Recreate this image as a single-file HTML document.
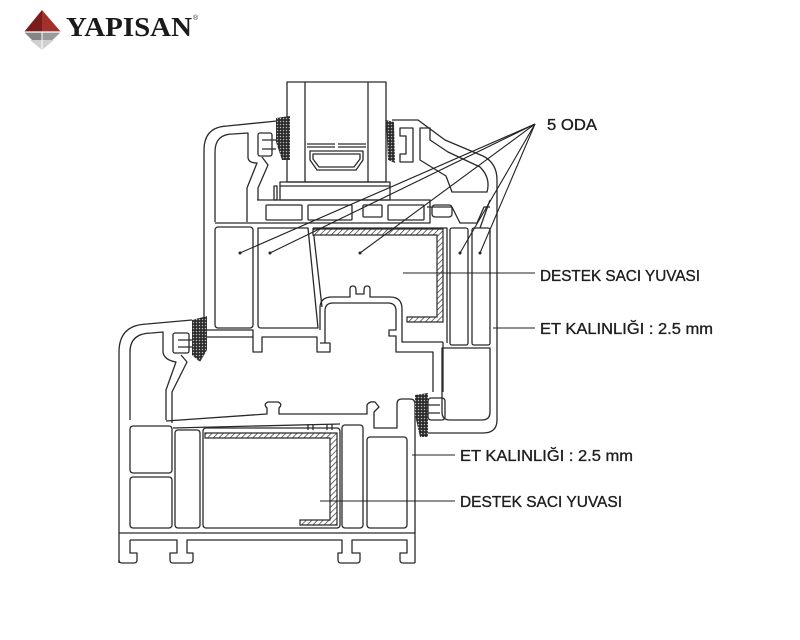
<!DOCTYPE html>
<html><head><meta charset="utf-8"><style>
html,body{margin:0;padding:0;background:#fff;}
svg{display:block;}
</style></head><body>
<svg width="800" height="640" viewBox="0 0 800 640" xmlns="http://www.w3.org/2000/svg">
<defs>
<pattern id="h" width="4" height="4" patternUnits="userSpaceOnUse" patternTransform="rotate(45)"><rect width="4" height="4" fill="#fff"/><line x1="0" y1="0" x2="0" y2="4" stroke="#333" stroke-width="1.4"/></pattern>
<pattern id="g" width="3" height="3" patternUnits="userSpaceOnUse"><rect width="3" height="3" fill="#2a2a2a"/><circle cx="1.5" cy="1.5" r="0.75" fill="#bbb"/></pattern>
</defs>
<!-- logo -->
<polygon points="42,10 24,32 42,32" fill="#7a1c1c"/>
<polygon points="42,10 61,32 42,32" fill="#a3302b"/>
<polygon points="24,32 42,32 42,50" fill="#858585"/>
<polygon points="61,32 42,32 42,50" fill="#9a9a9a"/>
<polygon points="30,40 54,40 42,50" fill="#d0d0d0"/>
<line x1="42" y1="32" x2="42" y2="50" stroke="#fff" stroke-width="1"/>
<line x1="24" y1="32" x2="61" y2="32" stroke="#fff" stroke-width="1.2"/>
<text x="66" y="36" font-family="Liberation Serif, serif" font-weight="bold" font-size="27" fill="#1a1a1a" textLength="126" lengthAdjust="spacingAndGlyphs">YAPISAN</text>
<text x="193" y="20" font-family="Liberation Sans, sans-serif" font-size="7" fill="#333">®</text>

<g fill="none" stroke="#2a2a2a" stroke-width="1.3" stroke-linejoin="round">
<!-- glass unit -->
<rect x="287" y="82" width="99" height="100"/>
<line x1="305" y1="82" x2="305" y2="182"/>
<line x1="368" y1="82" x2="368" y2="182"/>
<path d="M307 144H335M338 144H366M307 147H335M338 147H366"/>
<polygon points="310,151 363,151 363,160 356,170 317,170 310,160"/>
<polygon points="313,154 360,154 360,159 354,167 319,167 313,159"/>
<!-- base -->
<rect x="280" y="182" width="110" height="18"/>
<line x1="280" y1="186" x2="390" y2="186"/>
<rect x="274" y="186" width="3" height="14"/>
<!-- top bar -->
<path d="M257 200H430V223H215"/>
<rect x="266" y="205" width="36" height="15" rx="1"/>
<rect x="308" y="205" width="44" height="15" rx="1"/>
<rect x="363" y="205" width="19" height="12" rx="1"/>
<rect x="388" y="205" width="36" height="15" rx="1"/>
<rect x="432" y="205" width="20" height="12" rx="3"/>
<!-- upper sash left -->
<path d="M204 345V150Q204 127 227 126L277 121"/>
<path d="M215 222V152Q215 134 233 134L248 133V157Q248 163 257 163L247 188V222"/>
<path d="M262 157L268 165L258 188V200"/>
<rect x="258" y="133" width="14" height="23" rx="2"/>
<path d="M262 140H276M262 149H276"/>
<!-- upper chambers -->
<rect x="215" y="227" width="38" height="101" rx="3"/>
<path d="M258 228H308L318 328H261Q258 328 258 325Z"/>
<path d="M313 228L322 307"/>
<path d="M313 228H447V343"/>
<!-- bottom rail of upper sash -->
<path d="M204 330H253V352H262V337H317V352H330V343H320"/>
<path d="M204 337H253"/>
<path d="M320 330V308Q320 297 332 297H350V289Q350 286 353 286Q356 286 356 290V294H364V290Q364 286 367 286Q370 286 370 289V297H390Q402 297 402 309V342H443"/>
<path d="M325 343V311Q325 303 333 303H388Q396 303 396 311V330H389V336H396V352H433V392"/>
<path d="M443 342V392"/>
<!-- upper right part -->
<path d="M392 120H418L445 140L483 156Q497 163 497 180V420Q497 433 483 433H427"/>
<path d="M420 128V160L446 176L452 192H487Q491 178 480 167L448 152L430 140V128Z"/>
<path d="M400 128H413V162H400V154H406V136H400Z"/>
<path d="M427 207H452L460 223H477L484 207H490"/>
<path d="M490 200L480 228"/>
<rect x="450" y="228" width="18" height="117" rx="2"/>
<rect x="472" y="228" width="18" height="117" rx="2"/>
<path d="M442 348H490V412Q490 420 482 420H450Q442 420 442 412Z"/>
<!-- lower frame -->
<path d="M119 563V352Q119 325 147 324L192 320"/>
<path d="M130 420V352Q130 333 152 333L163 332V352Q164 360 176 362L166 390V420"/>
<path d="M181 355L187 362L172 392V423"/>
<rect x="173" y="333" width="16" height="20" rx="2"/>
<path d="M178 340H192M178 347H192"/>
<path d="M166 421L267 414V408Q263 404 268 402H278Q283 404 279 408V414H367V405Q369 401 375 402L379 407L374 412V428H397V404Q397 399 402 399H410Q415 399 415 404V563"/>
<path d="M173 428L340 424"/>
<path d="M308 424V430M313 424V430M327 424V430M332 424V430"/>
<rect x="130" y="426" width="42" height="47" rx="3"/>
<rect x="130" y="477" width="42" height="51" rx="3"/>
<rect x="175" y="430" width="25" height="98" rx="3"/>
<rect x="203" y="428" width="137" height="100" rx="3"/>
<rect x="342" y="425" width="21" height="103" rx="3"/>
<rect x="367" y="437" width="40" height="91" rx="3"/>
<line x1="119" y1="533" x2="415" y2="533"/>
<!-- feet -->
<path d="M130 540V553H137V560Q137 563 134 563H122Q119 563 119 560"/>
<path d="M130 540H177V553H170V560Q170 563 173 563H190Q193 563 193 560V553H187V540H342V553H338V560Q338 563 341 563H357Q360 563 360 560V553H352V540H407V553H400V560Q400 563 403 563H415"/>
</g>

<!-- gaskets -->
<polygon points="276,118 290,116 290,160 282,160 276,142" fill="url(#g)"/>
<polygon points="386,120 394,122 395,163 388,160" fill="url(#g)"/>
<polygon points="192,320 207,316 207,350 200,362 192,355" fill="url(#g)"/>
<polygon points="415,395 428,393 428,437 420,437 415,415" fill="url(#g)"/>
<rect x="428" y="398" width="17" height="22" rx="3" fill="none" stroke="#2a2a2a" stroke-width="1.3"/>
<path d="M428 405H440M428 413H440" stroke="#2a2a2a" stroke-width="1.3" fill="none"/>

<!-- steel reinforcement -->
<path d="M313 229H443V322H407V317H437V235H313Z" fill="url(#h)" stroke="#2a2a2a" stroke-width="1.2"/>
<path d="M205 433H337V525H300V520H330V438H205Z" fill="url(#h)" stroke="#2a2a2a" stroke-width="1.2"/>

<!-- leaders -->
<g stroke="#222" stroke-width="1.1">
<line x1="535" y1="124" x2="240" y2="253"/>
<line x1="535" y1="124" x2="270" y2="253"/>
<line x1="535" y1="124" x2="360" y2="253"/>
<line x1="535" y1="124" x2="460" y2="253"/>
<line x1="535" y1="124" x2="480" y2="253"/>
<line x1="403" y1="273" x2="535" y2="273"/>
<line x1="493" y1="328" x2="535" y2="328"/>
<line x1="412" y1="455" x2="455" y2="455"/>
<line x1="320" y1="501" x2="455" y2="501"/>
</g>
<g fill="#222">
<circle cx="240" cy="253" r="1.5"/><circle cx="270" cy="253" r="1.5"/><circle cx="360" cy="253" r="1.5"/><circle cx="460" cy="253" r="1.5"/><circle cx="480" cy="253" r="1.5"/>
</g>
<g font-family="Liberation Sans, sans-serif" font-size="16" fill="#1e1e1e" stroke="#1e1e1e" stroke-width="0.35">
<text x="547" y="130" textLength="50" lengthAdjust="spacingAndGlyphs">5 ODA</text>
<text x="540" y="281" textLength="160" lengthAdjust="spacingAndGlyphs">DESTEK SACI YUVASI</text>
<text x="540" y="334" textLength="173" lengthAdjust="spacingAndGlyphs">ET KALINLIĞI : 2.5 mm</text>
<text x="460" y="461" textLength="173" lengthAdjust="spacingAndGlyphs">ET KALINLIĞI : 2.5 mm</text>
<text x="460" y="507" textLength="162" lengthAdjust="spacingAndGlyphs">DESTEK SACI YUVASI</text>
</g>
</svg>
</body></html>
